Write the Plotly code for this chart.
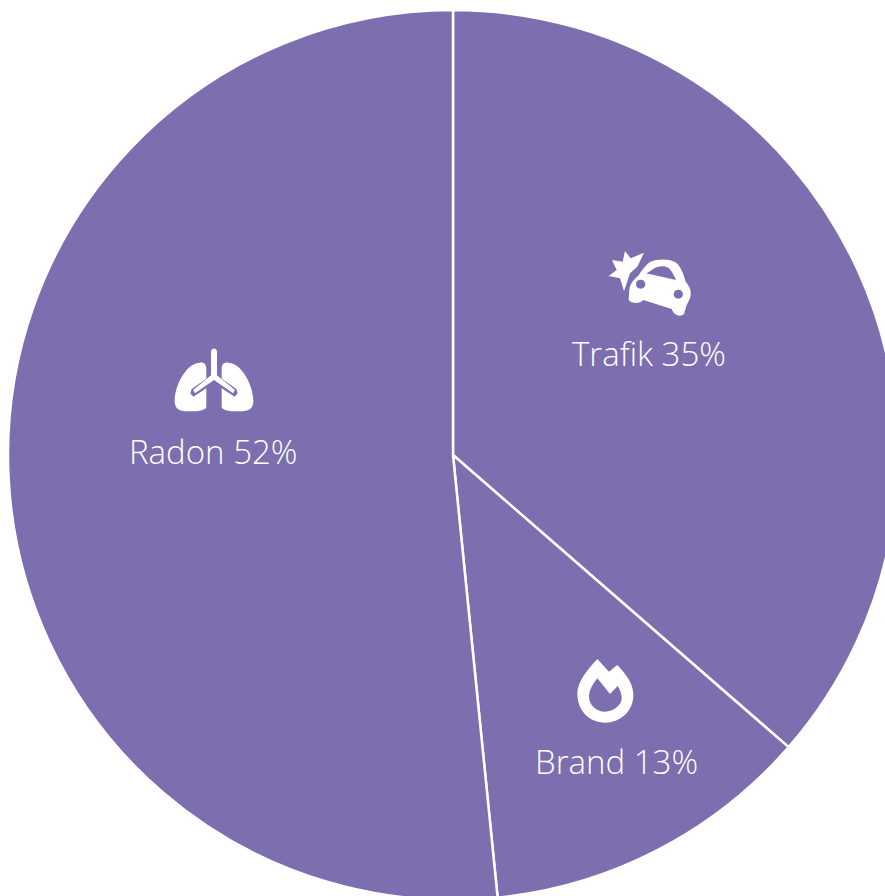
import re
import plotly.graph_objects as go

# Data
categories = ["Trafik", "Brand", "Radon"]
printed_percent = [35, 13, 52]          # as printed in the labels
drawn_share = [36.4, 12.0, 51.6]        # wedge sizes as actually drawn

PURPLE = "#7d6eb0"
FIG = 1000.0
FONT = dict(family="Open Sans", size=33, color="white", weight=300)


def px_path(d, ox, oy):
    """Zoom-crop coordinates (3x) -> paper coordinates."""
    nums = iter(re.findall(r"-?\d+\.?\d*|[A-Za-z]", d))
    out, is_x = [], True
    for tok in nums:
        if tok.isalpha():
            out.append(tok)
            is_x = True
        elif is_x:
            out.append(f"{(float(tok) / 3 + ox) / FIG:.5f}")
            is_x = False
        else:
            out.append(f"{1 - (float(tok) / 3 + oy) / FIG:.5f}")
            is_x = True
    return " ".join(out)


def icon(d, ox, oy, color="white"):
    return dict(type="path", xref="paper", yref="paper", path=px_path(d, ox, oy),
                fillcolor=color, line=dict(width=0), layer="above", fillrule="evenodd")


fig = go.Figure(go.Pie(
    labels=categories,
    values=drawn_share,
    sort=False,
    direction="clockwise",
    rotation=0,
    textinfo="none",
    hoverinfo="label+percent",
    marker=dict(colors=[PURPLE] * 3, line=dict(color="white", width=2.5)),
    domain=dict(x=[0.008, 0.898], y=[0.100, 0.990]),
    showlegend=False,
))

shapes = []
# Car + impact star
shapes.append(icon("M75 33 L92 55 L132 38 L112 80 L90 100 L72 154 L60 115 L26 108 L50 90 L36 60 L68 65 Z", 600, 240))
shapes.append(icon(
    "M150 66 C170 56 205 56 225 66 C240 74 250 100 257 125 C270 140 276 155 270 175 L260 195 "
    "L252 222 C242 232 222 227 215 207 L130 180 C122 192 93 192 86 180 L88 150 C90 130 103 118 116 106 C126 90 138 74 150 66 Z "
    "M158 88 C172 78 195 76 206 84 C215 92 222 105 228 120 L138 100 C144 98 150 94 158 88 Z "
    "M122 119 C130 119 136 125 136 133 C136 141 130 146 122 146 C114 146 108 141 108 133 C108 125 114 119 122 119 Z "
    "M235 149 C243 149 249 155 249 163 C249 171 243 176 235 176 C227 176 221 171 221 163 C221 155 227 149 235 149 Z",
    600, 240))
# Lungs
shapes.append(icon("M103 68 C118 66 124 74 124 88 L124 200 C124 210 100 215 70 214 C40 214 28 205 29 180 C30 140 60 72 103 68 Z", 165, 340))
shapes.append(icon("M191 68 C176 66 170 74 170 88 L170 200 C170 210 194 215 224 214 C254 214 266 205 265 180 C264 140 234 72 191 68 Z", 165, 340))
shapes.append(icon("M147 100 L214 147 L218 160 L209 170 L147 130 L85 170 L76 160 L80 147 Z", 165, 340, PURPLE))
shapes.append(icon("M138 36 C138 22 156 22 156 36 L156 106 L210 150 L204 160 L147 120 L90 160 L84 150 L138 106 Z", 165, 340))
# Flame
shapes.append(icon(
    "M97 27 L132 65 L157 45 C190 80 205 105 205 135 C205 185 165 218 120 218 C75 218 37 185 37 130 C37 95 70 55 97 27 Z "
    "M97 85 L135 132 L158 108 C168 125 170 135 170 145 C170 165 145 185 120 185 C95 185 72 165 72 140 C72 120 85 100 97 85 Z",
    565, 650))

label_xy = [(649, 353), (616, 761), (213, 452)]
annotations = [
    dict(text=f"{c} {p}%", x=x / FIG, y=1 - y / FIG, xref="paper", yref="paper",
         xanchor="center", yanchor="middle", showarrow=False, font=FONT)
    for c, p, (x, y) in zip(categories, printed_percent, label_xy)
]

fig.update_layout(width=FIG, height=FIG, margin=dict(l=0, r=0, t=0, b=0),
                  paper_bgcolor="white", shapes=shapes, annotations=annotations)

fig.write_html("out.html", post_script=(
    "document.body.style.margin='0';"
    "document.documentElement.style.overflow='hidden';"
    "document.body.style.overflow='hidden';"))
